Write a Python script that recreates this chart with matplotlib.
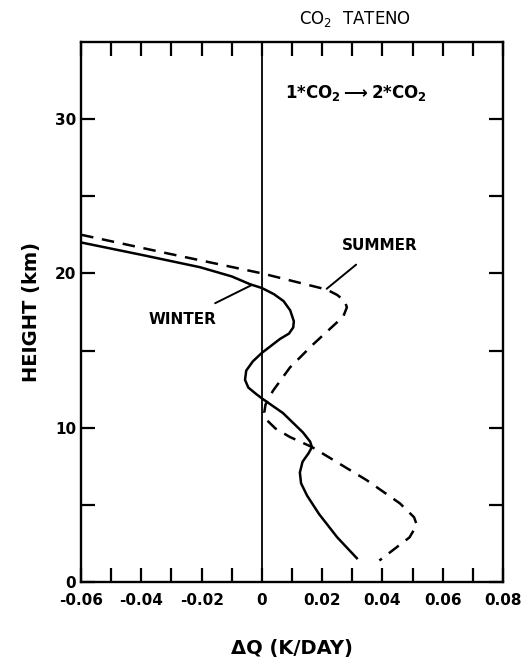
import numpy as np
import matplotlib
matplotlib.use('Agg')
import matplotlib.pyplot as plt

plt.rcParams['font.family'] = ['DejaVu Sans']
plt.rcParams['font.weight'] = 'bold'
plt.rcParams['axes.labelweight'] = 'bold'
plt.rcParams['mathtext.default'] = 'regular'

#-----winter profile (solid)
winter_dq = [-0.06, -0.040, -0.0206, -0.010, -0.004, 0.0, 0.004, 0.0072, 0.0094, 0.0106, 0.0104,
             0.0090, 0.0060, 0.003, 0.0, -0.003, -0.0052, -0.0056, -0.0045, -0.002, 0.0, 0.007, 0.0136,
             0.0160, 0.0166, 0.0155, 0.0135, 0.0126, 0.0130, 0.0150, 0.019, 0.025, 0.0315]
winter_h = [22.0, 21.2, 20.4, 19.8, 19.3, 19.05, 18.65, 18.2, 17.6, 16.9, 16.5,
            16.1, 15.75, 15.3, 14.85, 14.3, 13.7, 13.1, 12.6, 12.2, 11.9, 10.95, 9.7,
            9.1, 8.75, 8.35, 7.8, 7.1, 6.4, 5.6, 4.4, 2.9, 1.55]
#-----summer profile (dashed)
summer_dq = [-0.06, -0.0315, 0.0, 0.0215, 0.0250, 0.0275, 0.0282, 0.027, 0.022, 0.017, 0.0093,
             0.0037, 0.0012, 0.0008, 0.0016, 0.0045, 0.0093, 0.0166, 0.0348, 0.0458, 0.0505, 0.0514,
             0.049, 0.039]
summer_h = [22.5, 21.3, 20.0, 18.95, 18.6, 18.2, 17.8, 17.2, 16.3, 15.4, 13.9,
            12.4, 11.5, 11.0, 10.5, 9.95, 9.4, 8.75, 6.6, 5.1, 4.2, 3.7,
            2.9, 1.4]

xticks = np.arange(-0.06, 0.0801, 0.02)
xlabels = ['-0.06', '-0.04', '-0.02', '0', '0.02', '0.04', '0.06', '0.08']
yticks = [0, 10, 20, 30]

fig = plt.figure(figsize=(5.30, 6.63), dpi=100)
ax = fig.add_axes([0.153, 0.122, 0.796, 0.815])

ax.plot(winter_dq, winter_h, 'k-', lw=1.8)
ax.plot(summer_dq, summer_h, 'k--', lw=1.8, dashes=(5, 3.5))
ax.axvline(0, color='k', lw=1.3)

ax.set_xlim(-0.06, 0.08)
ax.set_ylim(0, 35)
ax.set_xticks(xticks)
ax.set_xticklabels(xlabels)
ax.set_xticks(np.arange(-0.05, 0.08, 0.02), minor=True)
ax.set_yticks(yticks)
ax.set_yticks([5, 15, 25], minor=True)
ax.tick_params(which='both', direction='in', top=True, right=True,
               length=10, width=1.6, labelsize=11)
ax.tick_params(axis='x', pad=8)
for s in ax.spines.values():
    s.set_linewidth(1.7)

ax.set_xlabel('ΔQ (K/DAY)', fontsize=14, labelpad=22)
ax.set_ylabel('HEIGHT (km)', fontsize=14, labelpad=10)

#-----labels
ax.text(0.0076, 31.7, r'1*CO$_2$$\longrightarrow$2*CO$_2$', fontsize=12, va='center')
ax.text(0.031, 35.8, r'CO$_2$  TATENO', fontsize=12, ha='center', va='bottom',
        fontweight='normal')
ax.annotate('SUMMER', xy=(0.0215, 19.0), xytext=(0.039, 21.8), fontsize=11,
            ha='center', va='center',
            arrowprops=dict(arrowstyle='-', color='k', lw=1.4, shrinkA=10, shrinkB=0))
ax.annotate('WINTER', xy=(-0.0033, 19.25), xytext=(-0.0265, 17.0), fontsize=11,
            ha='center', va='center',
            arrowprops=dict(arrowstyle='-', color='k', lw=1.4, shrinkA=10, shrinkB=0))

plt.savefig('out.png')
